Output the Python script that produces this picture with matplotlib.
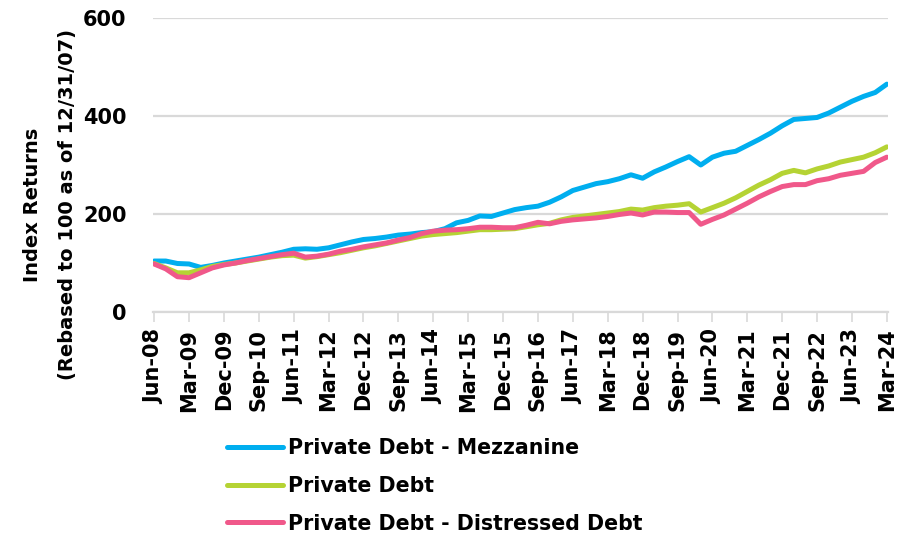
import matplotlib
matplotlib.use('Agg')
import matplotlib.pyplot as plt
import numpy as np

# --- data: quarterly index values, Jun-08 .. Mar-24 (rebased to 100 at 12/31/07) ---
mezzanine = [104, 104, 99, 98, 91, 95, 100, 104, 108, 112, 117, 122, 128, 129, 128, 131,
             137, 143, 148, 150, 153, 157, 159, 162, 164, 170, 182, 187, 196, 195, 202, 209,
             213, 216, 224, 235, 248, 255, 262, 266, 272, 280, 273, 286, 296, 307, 317, 300,
             316, 324, 328, 340, 352, 365, 380, 393, 395, 397, 406, 418, 430, 440, 448, 465]
private_debt = [99, 90, 80, 80, 86, 93, 97, 100, 104, 108, 112, 115, 116, 110, 113, 117,
                121, 126, 131, 135, 140, 145, 150, 155, 158, 160, 162, 165, 168, 168, 169, 170,
                174, 178, 181, 188, 193, 196, 199, 202, 205, 210, 208, 213, 216, 218, 221, 204,
                213, 222, 233, 246, 259, 270, 283, 289, 284, 292, 298, 306, 311, 316, 325, 337]
distressed = [98, 88, 72, 70, 80, 90, 96, 100, 105, 109, 113, 117, 120, 112, 114, 118,
              124, 128, 133, 137, 141, 147, 152, 160, 165, 167, 168, 170, 173, 173, 172, 172,
              177, 183, 180, 185, 188, 190, 192, 195, 199, 202, 198, 204, 204, 203, 203, 179,
              189, 198, 210, 222, 235, 246, 256, 260, 260, 268, 272, 279, 283, 287, 305, 316]

tick_labels = ['Jun-08', 'Mar-09', 'Dec-09', 'Sep-10', 'Jun-11', 'Mar-12', 'Dec-12', 'Sep-13',
               'Jun-14', 'Mar-15', 'Dec-15', 'Sep-16', 'Jun-17', 'Mar-18', 'Dec-18', 'Sep-19',
               'Jun-20', 'Mar-21', 'Dec-21', 'Sep-22', 'Jun-23', 'Mar-24']

series_names = ['Private Debt - Mezzanine', 'Private Debt', 'Private Debt - Distressed Debt']
colors = ['#00AEEF', '#B5D334', '#F0588A']

plt.rcParams['font.family'] = ['DejaVu Sans']
plt.rcParams['font.weight'] = 'bold'

fig = plt.figure(figsize=(9.09, 5.35), dpi=100)
ax = fig.add_axes([153 / 909, 1 - 312 / 535, 735 / 909, 294 / 535])

x = np.arange(len(mezzanine))
lines = []
for vals, name, col in zip([mezzanine, private_debt, distressed], series_names, colors):
    ln, = ax.plot(x, vals, color=col, lw=3.6, label=name, solid_capstyle='round', solid_joinstyle='round')
    lines.append(ln)

ax.set_xlim(-0.1, len(x) - 0.9)
ax.set_ylim(0, 600)
ax.set_yticks([0, 200, 400, 600])
ax.yaxis.grid(True, color='#D9D9D9', lw=1.6)
ax.set_axisbelow(True)
ax.tick_params(axis='y', length=0, labelsize=15, pad=19)

ax.set_xticks(x[::3])
ax.set_xticklabels(tick_labels, rotation=90, fontsize=15, fontweight='bold')
ax.tick_params(axis='x', length=7, color='#D9D9D9', width=1.2, pad=5)

for s in ['top', 'right', 'left']:
    ax.spines[s].set_visible(False)
ax.spines['bottom'].set_color('#D9D9D9')
ax.spines['bottom'].set_linewidth(1.6)

ax.set_ylabel('Index Returns\n(Rebased to 100 as of 12/31/07)', fontsize=14, fontweight='bold',
              linespacing=2.05)
ax.yaxis.set_label_coords(-0.104, 0.365)

leg = fig.legend(handles=lines, loc='upper left', bbox_to_anchor=(219 / 909, 1 - 430 / 535),
                 frameon=False, fontsize=14.8, handlelength=2.7, handletextpad=0.25,
                 labelspacing=0.86, borderaxespad=0)
for t in leg.get_texts():
    t.set_fontweight('bold')
for h in leg.get_lines():
    h.set_linewidth(3.6)

fig.savefig('out.png', dpi=100)
